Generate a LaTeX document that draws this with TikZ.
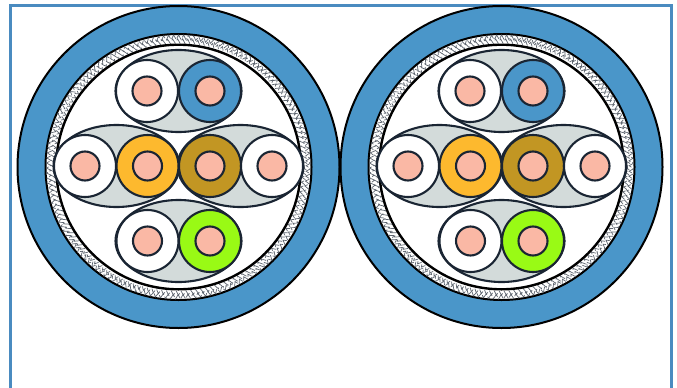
\documentclass[tikz,border=0pt]{standalone}
\usetikzlibrary{decorations.pathmorphing}
\definecolor{jacket}{HTML}{4A96C9}
\definecolor{framec}{HTML}{4A8BC0}
\definecolor{salmon}{HTML}{FAB8A5}
\definecolor{amber}{HTML}{FDB92E}
\definecolor{ochre}{HTML}{C29623}
\definecolor{lime}{HTML}{99FA15}
\definecolor{fillgrey}{HTML}{D3DBDA}
\definecolor{ink}{HTML}{1A2533}
\tikzset{
  pairline/.style={draw=ink,line width=2.1pt},
  pairfill/.style={pairline,fill=fillgrey},
  coreline/.style={pairline,fill=salmon},
  meshline/.style={draw=ink!70,line width=.7pt,decorate,decoration={zigzag,amplitude=2.2pt,segment length=5pt}}
}
\newcommand{\wire}[3]{%
  \filldraw[pairline,fill=#3] (#1,#2) circle (31pt);
  \filldraw[coreline] (#1,#2) circle (14.5pt);
}
\newcommand{\cable}[5]{%
  \begin{scope}[shift={(#1,167)}]
    \filldraw[fill=jacket,draw=black,line width=2pt] (0,0) circle (161pt);
    \filldraw[fill=white,draw=black,line width=2pt] (0,0) circle (133pt);
    \draw[meshline,dash pattern=on 9pt off 2pt] (0,0) circle (129.8pt);
    \draw[meshline,dash pattern=on 7pt off 3pt,dash phase=3pt] (0,0) circle (126pt);
    \filldraw[fill=white,draw=black,line width=2.4pt] (0,0) circle (122.3pt);
    \filldraw[pairfill] (0,-76) ellipse (63pt and 41pt);
    \filldraw[pairfill] (0,74) ellipse (63pt and 41pt);
    \filldraw[pairfill] (-62,-1) ellipse (63pt and 41pt);
    \filldraw[pairfill] (62,-1) ellipse (63pt and 41pt);
    \wire{-31.5}{-76}{white}
    \wire{31.5}{-76}{#2}
    \wire{-93.5}{-1}{white}
    \wire{-31}{-1}{#3}
    \wire{31.5}{-1}{#4}
    \wire{93.5}{-1}{white}
    \wire{-31}{74}{white}
    \wire{31.5}{74}{#5}
  \end{scope}
}
\begin{document}
\begin{tikzpicture}[x=1pt,y=-1pt]
  \useasboundingbox (0,0) rectangle (677,388);
  \fill[white] (0,0) rectangle (677,388);
  \draw[framec,line width=2.2pt] (10.5,400) -- (10.5,5.5) -- (671.5,5.5) -- (671.5,400);
  \clip (0,0) rectangle (677,388);
  \cable{178.5}{jacket}{amber}{ochre}{lime}
  \cable{501.5}{jacket}{amber}{ochre}{lime}
\end{tikzpicture}
\end{document}
